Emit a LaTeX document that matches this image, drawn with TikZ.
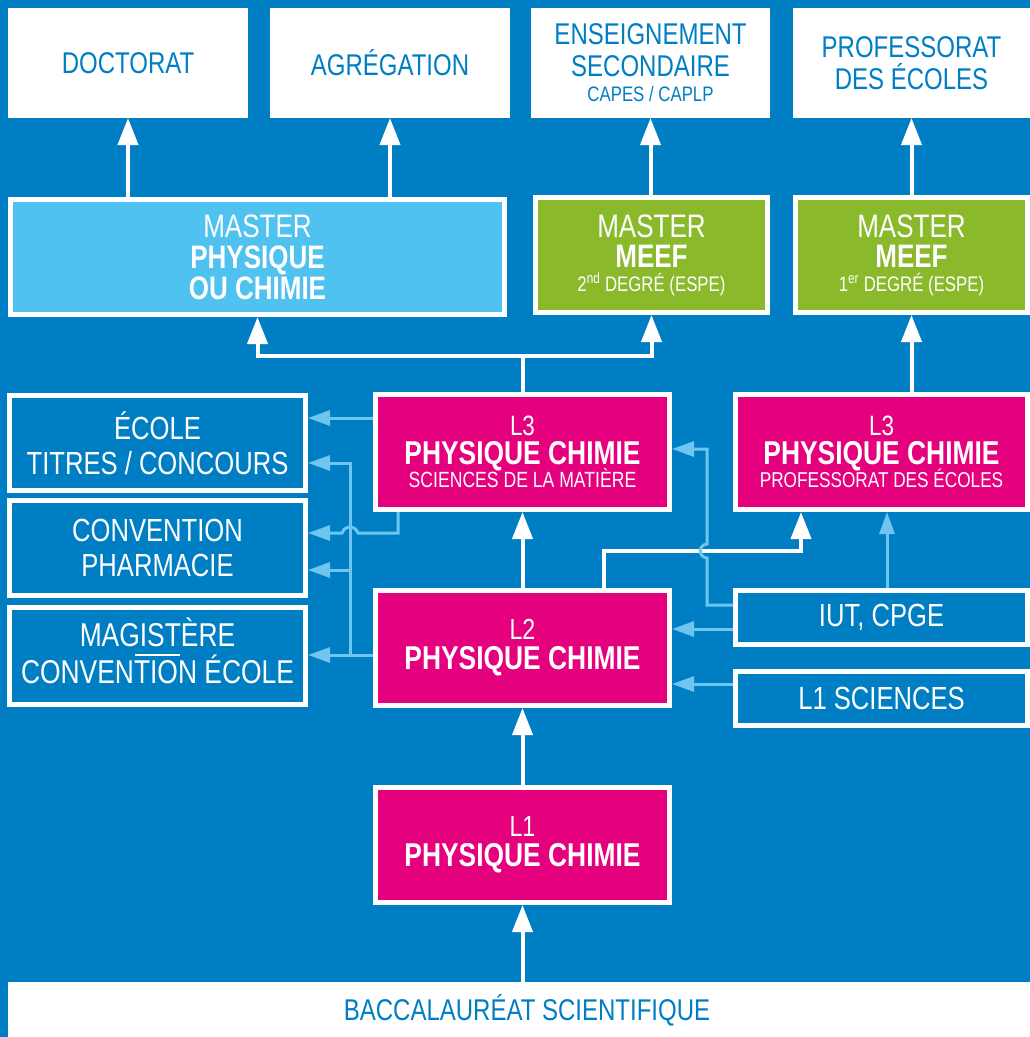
\documentclass[tikz,border=0pt]{standalone}
\usepackage{fontspec}
\setmainfont{Liberation Sans}[FakeStretch=0.8]
\usetikzlibrary{arrows.meta,calc}
\definecolor{bg}{HTML}{007EC4}
\definecolor{pinkc}{HTML}{E5007E}
\definecolor{greenc}{HTML}{8AB92B}
\definecolor{skyc}{HTML}{50C2F0}
\definecolor{linec}{HTML}{6EC6F0}
\newcommand{\fsz}[2]{\fontsize{#1}{#2}\selectfont}
\begin{document}
\begin{tikzpicture}[x=1pt,y=-1pt,
  topbox/.style={fill=white, text=bg, inner sep=0pt, outer sep=0pt, align=center, font=\fsz{30}{32}},
  colbox/.style={fill=#1, draw=white, line width=5pt, text=white, inner sep=0pt, align=center, font=\fsz{32.5}{30}},
  sidebox/.style={fill=bg, draw=white, line width=5pt, text=white, inner sep=0pt, align=center, font=\fsz{32}{35}},
  warrow/.style={draw=white, line width=4pt, -{Triangle[width=20pt,length=27pt]}},
  wline/.style={draw=white, line width=4pt},
  barrow/.style={draw=linec, line width=3pt, -{Triangle[width=15pt,length=22pt]}},
]
\useasboundingbox (0,0) rectangle (1030,1037);
\fill[bg] (0,0) rectangle (1030,1037);

% top row
\node[topbox, minimum width=240, minimum height=110] (doc) at (128,63) {DOCTORAT};
\node[topbox, minimum width=240, minimum height=110] (agr) at (390,63) {AGRÉGATION};
\node[topbox, minimum width=239, minimum height=110] (ens) at (650.5,63) {ENSEIGNEMENT\\SECONDAIRE\\[-7pt]{\fsz{21}{24}CAPES / CAPLP}};
\node[topbox, minimum width=237, minimum height=110] (prof) at (911.5,63) {PROFESSORAT\\DES ÉCOLES};

% masters
\node[colbox=skyc, minimum width=494, minimum height=115, font=\fsz{32.5}{31}] (mphys) at (257.5,257) {MASTER\\{\bfseries PHYSIQUE}\\{\bfseries OU CHIMIE}};
\node[colbox=greenc, minimum width=232, minimum height=115] (meef2) at (651.5,255) {MASTER\\{\bfseries MEEF}\\[-6pt]{\fsz{21}{24}2\textsuperscript{nd} DEGRÉ (ESPE)}};
\node[colbox=greenc, minimum width=232, minimum height=115] (meef1) at (911.5,255) {MASTER\\{\bfseries MEEF}\\[-6pt]{\fsz{21}{24}1\textsuperscript{er} DEGRÉ (ESPE)}};

% licences
\node[colbox=pinkc, minimum width=294, minimum height=115, font=\fsz{33}{29}] (l3a) at (522.5,452) {{\fsz{28}{29}L3}\\{\bfseries PHYSIQUE CHIMIE}\\[-6pt]{\fsz{22}{24}SCIENCES DE LA MATIÈRE}};
\node[colbox=pinkc, minimum width=292, minimum height=115, font=\fsz{33}{29}] (l3b) at (881.5,452) {{\fsz{28}{29}L3}\\{\bfseries PHYSIQUE CHIMIE}\\[-6pt]{\fsz{21.5}{24}PROFESSORAT DES ÉCOLES}};
\node[colbox=pinkc, minimum width=294, minimum height=115, font=\fsz{33}{30}] (l2) at (522.5,648) {{\fsz{29}{30}L2}\\{\bfseries PHYSIQUE CHIMIE}};
\node[colbox=pinkc, minimum width=294, minimum height=115, font=\fsz{33}{30}] (l1) at (522.5,845) {{\fsz{29}{30}L1}\\{\bfseries PHYSIQUE CHIMIE}};

% bac
\node[topbox, minimum width=1038, minimum height=57] (bac) at (527,1010) {BACCALAURÉAT SCIENTIFIQUE};

% left boxes
\node[sidebox, minimum width=296, minimum height=95] (ecole) at (157.5,443) {ÉCOLE\\TITRES / CONCOURS};
\node[sidebox, minimum width=296, minimum height=95] (conv) at (157.5,548) {CONVENTION\\PHARMACIE};
\node[sidebox, minimum width=296, minimum height=97, font=\fsz{33}{37}, text depth=10pt] (mag) at (157.5,656) {MAGISTÈRE\\CONVENTION ÉCOLE};
\draw[white, line width=2.5pt] ($(mag.center)+(-22.5,-1)$) -- ++(45,0);

% right boxes
\node[sidebox, minimum width=292, minimum height=54] (iut) at (881.5,617.5) {IUT, CPGE};
\node[sidebox, minimum width=292, minimum height=54] (l1s) at (881.5,698.5) {L1 SCIENCES};

% white connectors
\draw[warrow] (mphys.north -| doc.south) -- (doc.south);
\draw[warrow] (mphys.north -| agr.south) -- (agr.south);
\draw[warrow] (meef2.north -| ens.south) -- (ens.south);
\draw[warrow] (meef1.north) -- (prof.south);
\draw[wline] (l3a.north) -- ++(0,-36) coordinate (j1);
\draw[warrow] (j1) -| (mphys.south);
\draw[warrow] (j1) -| (meef2.south);
\draw[warrow] (l3b.north -| meef1.south) -- (meef1.south);
\draw[warrow] (l2.north) -- (l3a.south);
\draw[warrow] (l1.north) -- (l2.south);
\draw[warrow] (bac.north -| l1.south) -- (l1.south);
\coordinate (c1) at (604,551);
\coordinate (c2) at (801,551);
\draw[warrow] (l2.north -| c1) -- (c1) -- (c2) -- (c2 |- l3b.south);

% light blue connectors
\coordinate (ya) at (0,418);
\draw[barrow] (l3a.west |- ya) -- (ecole.east |- ya);
\coordinate (bus1) at (350,463);
\coordinate (bus2) at (350,655);
\coordinate (bus3) at (350,570);
\draw[barrow] (l2.west |- bus2) -- (mag.east |- bus2);
\draw[barrow] (bus2) -- (bus1) -- (ecole.east |- bus1);
\draw[barrow] (bus3) -- (conv.east |- bus3);
\coordinate (h1) at (398,533);
\draw[barrow] (l3a.south -| h1) -- (h1) -- (358,533) .. controls (355,525) and (345,525) .. (342,533) -- (conv.east |- h1);
\coordinate (d1) at (707,605);
\coordinate (d2) at (707,449);
\draw[barrow] (iut.west |- d1) -- (d1) -- (707,558) .. controls (698,557) and (698,545) .. (707,544) -- (d2) -- (l3a.east |- d2);
\coordinate (e1) at (0,629);
\draw[barrow] (iut.west |- e1) -- (l2.east |- e1);
\coordinate (f1) at (0,684);
\draw[barrow] (l1s.west |- f1) -- (l2.east |- f1);
\coordinate (g1) at (887,0);
\draw[barrow] (iut.north -| g1) -- (l3b.south -| g1);
\end{tikzpicture}
\end{document}
